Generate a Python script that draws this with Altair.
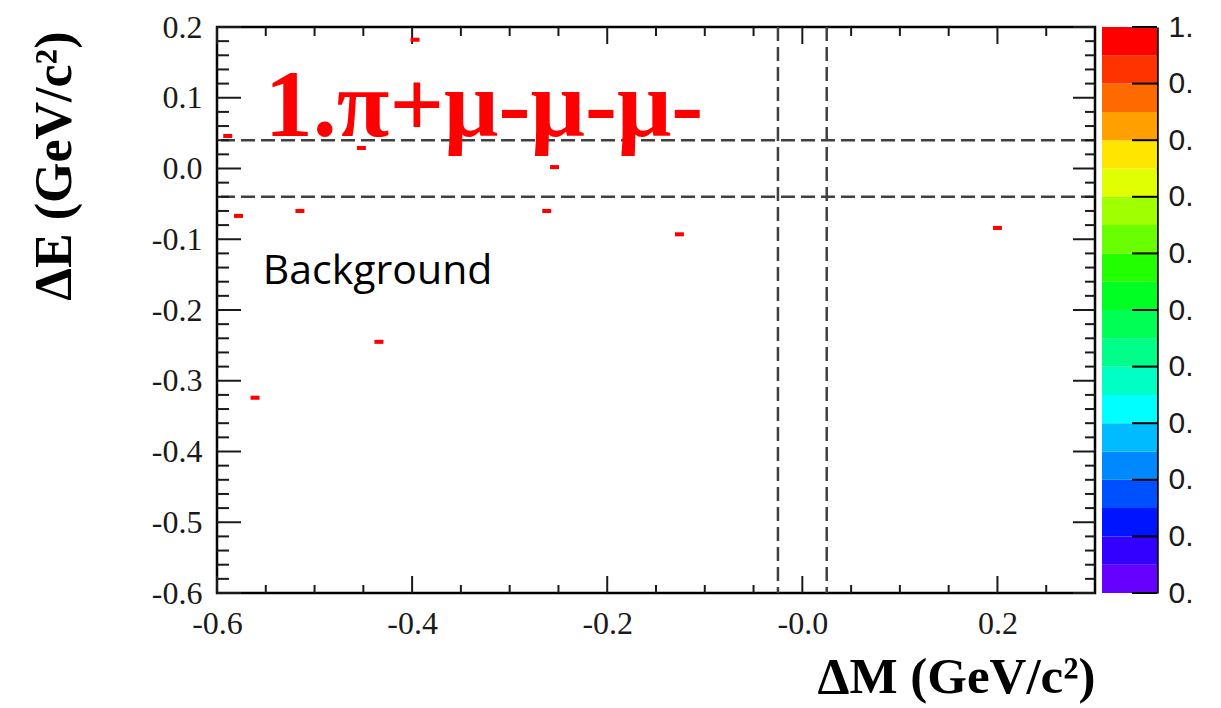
import altair as alt
import pandas as pd

# ---------------- data ----------------
dm = [-0.589, -0.578, -0.515, -0.452, -0.397, -0.262, -0.254, -0.126, 0.200, -0.434, -0.561]
de = [0.046, -0.067, -0.060, 0.029, 0.182, -0.060, 0.002, -0.093, -0.084, -0.245, -0.324]
z = [1.0, 1.0, 1.0, 1.0, 1.0, 1.0, 1.0, 1.0, 1.0, 1.0, 1.0]

signal_de = [-0.04, 0.04]
signal_dm = [-0.025, 0.025]

x_major = [-0.6, -0.4, -0.2, 0.0, 0.2]
x_minor = [-0.55, -0.5, -0.45, -0.35, -0.3, -0.25, -0.15, -0.1, -0.05, 0.05, 0.1, 0.15, 0.25]
y_major = [-0.6, -0.5, -0.4, -0.3, -0.2, -0.1, 0.0, 0.1, 0.2]
y_minor = [round(-0.6 + 0.02 * i, 2) for i in range(41) if i % 5 != 0]

# colour palette, low -> high (20 contour levels)
palette = ["#6600FF", "#3300FF", "#0015FF", "#0050FF", "#0088FF",
           "#00BBFF", "#00FFFF", "#00FFC4", "#00FF88", "#00FF55",
           "#00FF22", "#22FF00", "#6AFF00", "#A0FF00", "#E0FF00",
           "#FFE600", "#FFA000", "#FF6A00", "#FF3300", "#FF0000"]
band_lo = [0.00, 0.05, 0.10, 0.15, 0.20, 0.25, 0.30, 0.35, 0.40, 0.45,
           0.50, 0.55, 0.60, 0.65, 0.70, 0.75, 0.80, 0.85, 0.90, 0.95]
band_hi = [0.05, 0.10, 0.15, 0.20, 0.25, 0.30, 0.35, 0.40, 0.45, 0.50,
           0.55, 0.60, 0.65, 0.70, 0.75, 0.80, 0.85, 0.90, 0.95, 1.00]
band_mid = [0.025, 0.075, 0.125, 0.175, 0.225, 0.275, 0.325, 0.375, 0.425, 0.475,
            0.525, 0.575, 0.625, 0.675, 0.725, 0.775, 0.825, 0.875, 0.925, 0.975]
cbar_ticks = [0.0, 0.1, 0.2, 0.3, 0.4, 0.5, 0.6, 0.7, 0.8, 0.9, 1.0]

channel_text = ["1.π+μ-μ-μ-"]
note_text = ["Background"]

# ---------------- layout / style ----------------
W, H = 878, 566
CBW = 55
TICK = "#1a1a1a"
SERIF = "Liberation Serif"

xs = alt.Scale(domain=[-0.6, 0.3], nice=False, zero=False)
ys = alt.Scale(domain=[-0.6, 0.2], nice=False, zero=False)
cscale = alt.Scale(type="quantize", domain=[0, 1], range=palette)

x_axis = alt.Axis(
    values=x_major,
    labelExpr="abs(datum.value) < 1e-9 ? '-0.0' : (datum.value < 0 ? '-' : '') + format(abs(datum.value), '.1f')",
    ticks=False, tickSize=0, domain=False, grid=False,
    labelFont=SERIF, labelFontSize=32, labelColor="#1a1a1a", labelPadding=15,
    labelFlush=False, labelOverlap=False,
    title="ΔM (GeV/c²)", titleFont=SERIF, titleFontSize=51, titleFontWeight="bold",
    titleColor="#000000", titleX=W, titleY=99, titleAlign="right", titleBaseline="alphabetic",
)
y_axis = alt.Axis(
    values=y_major,
    labelExpr="(datum.value < -1e-9 ? '-' : '') + format(abs(datum.value), '.1f')",
    ticks=False, tickSize=0, domain=False, grid=False,
    labelFont=SERIF, labelFontSize=32, labelColor="#1a1a1a", labelPadding=15,
    labelFlush=False, labelOverlap=False,
    title="ΔE (GeV/c²)", titleFont=SERIF, titleFontSize=52, titleFontWeight="bold",
    titleColor="#000000", titleAngle=270, titleX=-147, titleY=4,
    titleAlign="right", titleBaseline="alphabetic",
)

pts = pd.DataFrame({"dm": dm, "de": de, "z": z})
points = alt.Chart(pts).mark_point(
    shape="M-1,-0.45L1,-0.45L1,0.45L-1,0.45Z", filled=True, size=81, opacity=1, strokeWidth=0
).encode(
    x=alt.X("dm:Q", scale=xs, axis=x_axis),
    y=alt.Y("de:Q", scale=ys, axis=y_axis),
    color=alt.Color("z:Q", scale=cscale, legend=None),
)

dash = dict(color="#404040", strokeWidth=2.5, strokeDash=[14, 6])
hlines = alt.Chart(pd.DataFrame({"de": signal_de})).mark_rule(**dash).encode(
    y=alt.Y("de:Q", scale=ys, axis=y_axis))
vlines = alt.Chart(pd.DataFrame({"dm": signal_dm})).mark_rule(**dash).encode(
    x=alt.X("dm:Q", scale=xs, axis=x_axis))


def yticks(vals, length, side):
    x0, x1 = (0, length) if side == "left" else (W, W - length)
    return alt.Chart(pd.DataFrame({"de": vals})).mark_rule(color=TICK, strokeWidth=2).encode(
        y=alt.Y("de:Q", scale=ys, axis=y_axis), x=alt.value(x0), x2=alt.value(x1))


def xticks(vals, length, side):
    y0, y1 = (H, H - length) if side == "bottom" else (0, length)
    return alt.Chart(pd.DataFrame({"dm": vals})).mark_rule(color=TICK, strokeWidth=2).encode(
        x=alt.X("dm:Q", scale=xs, axis=x_axis), y=alt.value(y0), y2=alt.value(y1))


ticks = [
    yticks(y_major, 24, "left"), yticks(y_minor, 12, "left"),
    yticks(y_major, 22, "right"), yticks(y_minor, 10, "right"),
    xticks(x_major, 17, "bottom"), xticks(x_minor, 8, "bottom"),
    xticks(x_major, 17, "top"), xticks(x_minor, 9, "top"),
]

chan = alt.Chart(pd.DataFrame({"t": channel_text})).mark_text(
    font=SERIF, fontSize=96, fontWeight="bold", color="#FF0000", align="left", baseline="alphabetic"
).encode(x=alt.datum(-0.551, scale=xs, axis=x_axis), y=alt.datum(0.046, scale=ys, axis=y_axis), text="t:N")

note = alt.Chart(pd.DataFrame({"t": note_text})).mark_text(
    font="Open Sans", fontSize=41, color="#000000", align="left", baseline="alphabetic"
).encode(x=alt.datum(-0.553, scale=xs, axis=x_axis), y=alt.datum(-0.163, scale=ys, axis=y_axis), text="t:N")

main = alt.layer(hlines, vlines, *ticks, points, chan, note).properties(
    width=W, height=H, view=alt.ViewBackground(stroke="#000000", strokeWidth=2.5))

# ---------------- colour bar ----------------
cb_scale = alt.Scale(domain=[0, 1], nice=False, zero=False)
cb_axis = alt.Axis(
    orient="right", values=cbar_ticks,
    labelExpr="datum.value > 0.99 ? '1.' : '0.'",
    ticks=False, tickSize=0, domain=True, domainColor="#000000", domainWidth=2.5, grid=False,
    labelFont="Liberation Sans", labelFontSize=30, labelColor="#1a1a1a", labelPadding=11,
    labelFlush=False, labelOverlap=False, title=None,
)
bands = pd.DataFrame({"lo": band_lo, "hi": band_hi, "mid": band_mid})
cb_rects = alt.Chart(bands).mark_rect().encode(
    y=alt.Y("lo:Q", scale=cb_scale, axis=cb_axis),
    y2="hi:Q",
    color=alt.Color("mid:Q", scale=cscale, legend=None),
)
cb_ticks = alt.Chart(pd.DataFrame({"lo": cbar_ticks})).mark_rule(color="#000000", strokeWidth=2).encode(
    y=alt.Y("lo:Q", scale=cb_scale, axis=cb_axis), x=alt.value(CBW - 25), x2=alt.value(CBW))
cbar = alt.layer(cb_rects, cb_ticks).properties(
    width=CBW, height=H, view=alt.ViewBackground(stroke="transparent", strokeWidth=0))

chart = alt.hconcat(main, cbar, spacing=4).resolve_scale(
    x="independent", y="independent", color="independent"
).properties(
    padding={"left": 18, "top": 1, "right": 0, "bottom": 0}
).configure(background="white").configure_view(strokeWidth=0)

chart.save("out.html", embed_options={"renderer": "svg", "actions": False})
